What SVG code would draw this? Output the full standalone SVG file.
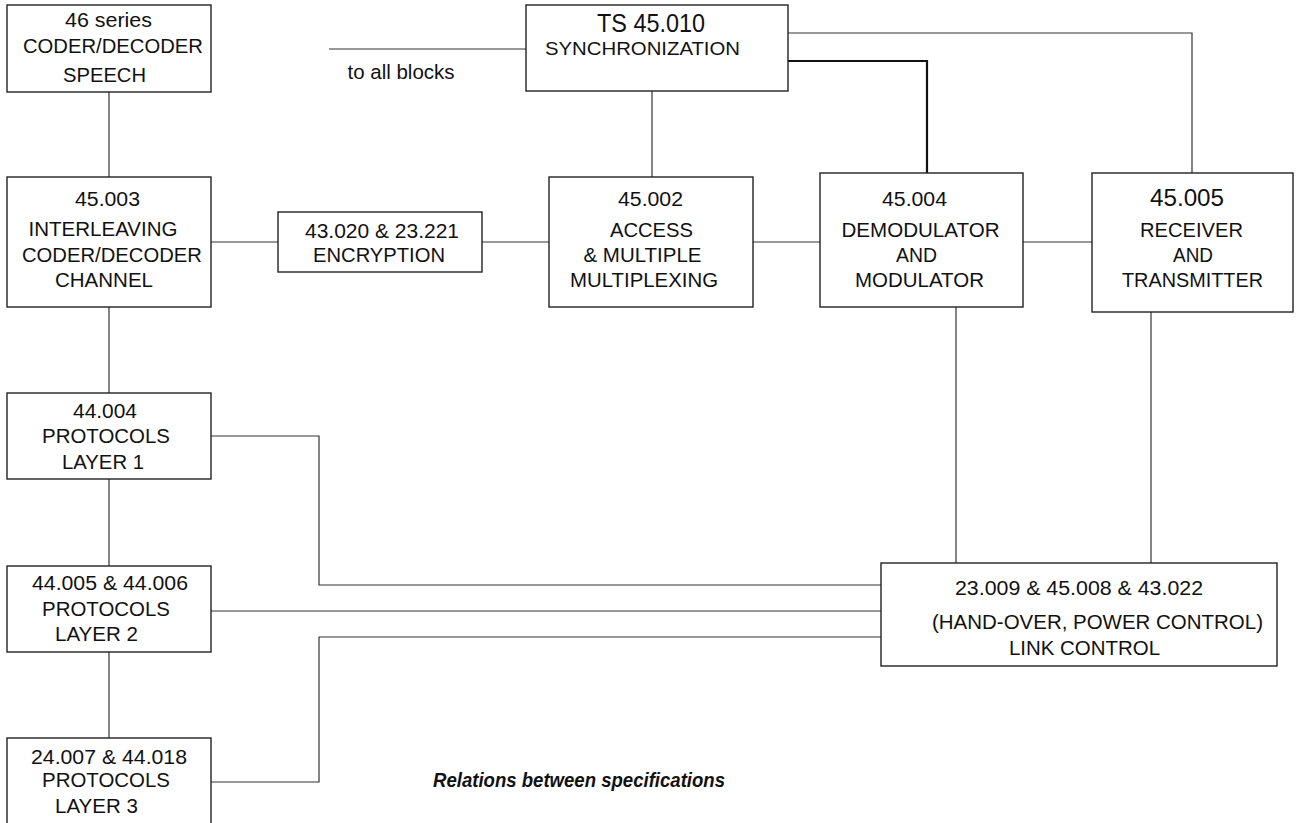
<svg xmlns="http://www.w3.org/2000/svg" width="1297" height="823" viewBox="0 0 1297 823">
<style>
.box{fill:#fff;stroke:#222;stroke-width:1.4}
.ln{fill:none;stroke:#333;stroke-width:1.2}
.thick{stroke-width:2.2;stroke:#111}
text{font-family:"Liberation Sans",Arial,sans-serif;font-size:20.5px;fill:#111;text-anchor:middle}
.cap{font-weight:bold;font-style:italic;text-anchor:start;font-size:20px}
</style>
<rect width="1297" height="823" fill="#fff"/>
<g id="connectors">
<path class="ln" d="M109,92 V177"/>
<path class="ln" d="M109,307 V393"/>
<path class="ln" d="M109,479 V566"/>
<path class="ln" d="M109,652 V738"/>
<path class="ln" d="M211,242 H278"/>
<path class="ln" d="M482,242 H549"/>
<path class="ln" d="M753,242 H820"/>
<path class="ln" d="M1023,242 H1092"/>
<path class="ln" d="M329,49 H526"/>
<path class="ln" d="M652,91 V177"/>
<path class="ln" d="M788,33 H1192 V173"/>
<path class="ln thick" d="M788,61 H927 V173"/>
<path class="ln" d="M956,307 V563"/>
<path class="ln" d="M1151,312 V563"/>
<path class="ln" d="M211,436 H319 V585 H881"/>
<path class="ln" d="M211,611 H881"/>
<path class="ln" d="M211,782 H319 V637 H881"/>
<text x="401" y="79" textLength="107" lengthAdjust="spacingAndGlyphs">to all blocks</text>
</g>
<g id="speech">
<rect class="box" x="7" y="5" width="204" height="87"/>
<text x="108.5" y="27" textLength="87" lengthAdjust="spacingAndGlyphs">46 series</text>
<text x="113" y="53" textLength="180" lengthAdjust="spacingAndGlyphs">CODER/DECODER</text>
<text x="104.5" y="82" textLength="83" lengthAdjust="spacingAndGlyphs">SPEECH</text>
</g>
<g id="sync">
<rect class="box" x="526" y="5" width="262" height="86"/>
<text x="651" y="32" style="font-size:25px" textLength="108" lengthAdjust="spacingAndGlyphs">TS 45.010</text>
<text x="642.5" y="55" style="font-size:19px" textLength="195" lengthAdjust="spacingAndGlyphs">SYNCHRONIZATION</text>
</g>
<g id="channel">
<rect class="box" x="7" y="177" width="204" height="130"/>
<text x="107.5" y="206" textLength="65" lengthAdjust="spacingAndGlyphs">45.003</text>
<text x="103" y="236" textLength="149" lengthAdjust="spacingAndGlyphs">INTERLEAVING</text>
<text x="112" y="262" textLength="180" lengthAdjust="spacingAndGlyphs">CODER/DECODER</text>
<text x="104" y="287" textLength="98" lengthAdjust="spacingAndGlyphs">CHANNEL</text>
</g>
<g id="encryption">
<rect class="box" x="278" y="212" width="204" height="60"/>
<text x="382" y="238" textLength="154" lengthAdjust="spacingAndGlyphs">43.020 &amp; 23.221</text>
<text x="379" y="262" textLength="132" lengthAdjust="spacingAndGlyphs">ENCRYPTION</text>
</g>
<g id="access">
<rect class="box" x="549" y="177" width="204" height="130"/>
<text x="650.5" y="206" textLength="65" lengthAdjust="spacingAndGlyphs">45.002</text>
<text x="651.5" y="237" textLength="83" lengthAdjust="spacingAndGlyphs">ACCESS</text>
<text x="642.5" y="262" textLength="118" lengthAdjust="spacingAndGlyphs">&amp; MULTIPLE</text>
<text x="644" y="287" textLength="148" lengthAdjust="spacingAndGlyphs">MULTIPLEXING</text>
</g>
<g id="demod">
<rect class="box" x="820" y="173" width="203" height="134"/>
<text x="914.5" y="206" textLength="65" lengthAdjust="spacingAndGlyphs">45.004</text>
<text x="920.5" y="237" textLength="158" lengthAdjust="spacingAndGlyphs">DEMODULATOR</text>
<text x="916.5" y="262" textLength="41" lengthAdjust="spacingAndGlyphs">AND</text>
<text x="919.5" y="287" textLength="129" lengthAdjust="spacingAndGlyphs">MODULATOR</text>
</g>
<g id="receiver">
<rect class="box" x="1092" y="173" width="201" height="139"/>
<text x="1187" y="206" style="font-size:23px" textLength="74" lengthAdjust="spacingAndGlyphs">45.005</text>
<text x="1191.5" y="237" textLength="103" lengthAdjust="spacingAndGlyphs">RECEIVER</text>
<text x="1193" y="262" textLength="40" lengthAdjust="spacingAndGlyphs">AND</text>
<text x="1192.5" y="287" textLength="141" lengthAdjust="spacingAndGlyphs">TRANSMITTER</text>
</g>
<g id="layer1">
<rect class="box" x="7" y="393" width="204" height="86"/>
<text x="105" y="418" textLength="64" lengthAdjust="spacingAndGlyphs">44.004</text>
<text x="106" y="443" textLength="128" lengthAdjust="spacingAndGlyphs">PROTOCOLS</text>
<text x="103" y="469" textLength="82" lengthAdjust="spacingAndGlyphs">LAYER 1</text>
</g>
<g id="layer2">
<rect class="box" x="7" y="566" width="204" height="86"/>
<text x="110" y="590" textLength="156" lengthAdjust="spacingAndGlyphs">44.005 &amp; 44.006</text>
<text x="106" y="616" textLength="128" lengthAdjust="spacingAndGlyphs">PROTOCOLS</text>
<text x="96.5" y="641" textLength="83" lengthAdjust="spacingAndGlyphs">LAYER 2</text>
</g>
<g id="layer3">
<rect class="box" x="7" y="738" width="204" height="95"/>
<text x="109" y="764" textLength="156" lengthAdjust="spacingAndGlyphs">24.007 &amp; 44.018</text>
<text x="106" y="787" textLength="128" lengthAdjust="spacingAndGlyphs">PROTOCOLS</text>
<text x="96.5" y="813" textLength="83" lengthAdjust="spacingAndGlyphs">LAYER 3</text>
</g>
<g id="linkcontrol">
<rect class="box" x="881" y="563" width="396" height="103"/>
<text x="1079" y="595" textLength="248" lengthAdjust="spacingAndGlyphs">23.009 &amp; 45.008 &amp; 43.022</text>
<text x="1097.5" y="629" textLength="331" lengthAdjust="spacingAndGlyphs">(HAND-OVER, POWER CONTROL)</text>
<text x="1084.5" y="655" textLength="151" lengthAdjust="spacingAndGlyphs">LINK CONTROL</text>
</g>
<g id="caption">
<text class="cap" x="433" y="787" textLength="292" lengthAdjust="spacingAndGlyphs">Relations between specifications</text>
</g>
</svg>
